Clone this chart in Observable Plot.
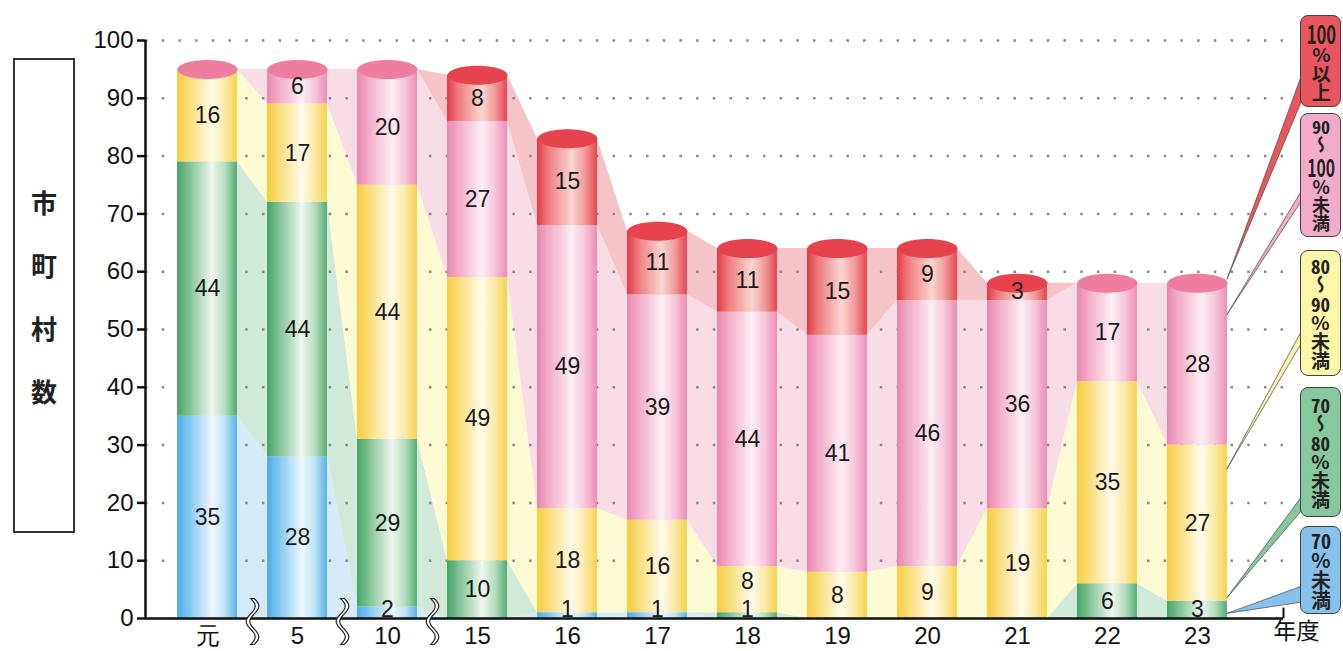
<!DOCTYPE html>
<html><head><meta charset="utf-8">
<script src="https://cdn.jsdelivr.net/npm/d3@7"></script>
<script src="https://cdn.jsdelivr.net/npm/@observablehq/plot@0.6"></script>
<style>
body{margin:0;background:#fff;font-family:"Liberation Sans",Arial,sans-serif}
#wrap{position:relative;width:1343px;height:651px;overflow:hidden}
#ylab{position:absolute;left:13px;top:58px;width:62px;height:475px;border:2px solid #333;box-sizing:border-box;display:flex;flex-direction:column;align-items:center;justify-content:center;font-family:"Noto Sans CJK JP",sans-serif;font-weight:bold;font-size:26px;color:#222}
#ylab div{height:63px;line-height:63px}
#overlay{position:absolute;left:0;top:0;pointer-events:none}
.lg{position:absolute;left:1300px;width:41px;box-sizing:border-box;border:1.8px solid #444;border-radius:8px;display:flex;align-items:center;justify-content:center;overflow:hidden}
.lg .t{writing-mode:vertical-rl;text-orientation:upright;font-family:"Noto Sans CJK JP",sans-serif;font-weight:bold;color:#222;line-height:1;white-space:nowrap}
.lg .tcy{text-combine-upright:all}
.lg .tcy3{text-combine-upright:all;font-size:1.4em}
</style></head>
<body><div id="wrap"><div id="ylab"><div>市</div><div>町</div><div>村</div><div>数</div></div></div>
<script>
const years = ["元","5","10","15","16","17","18","19","20","21","22","23"];
const seriesNames = ["70%未満","70～80%未満","80～90%未満","90～100%未満","100%以上"];
const under70     = [35,28, 2, 0, 1, 1, 0, 0, 0, 0, 0, 0];
const from70to80  = [44,44,29,10, 0, 0, 1, 0, 0, 0, 6, 3];
const from80to90  = [16,17,44,49,18,16, 8, 8, 9,19,35,27];
const from90to100 = [ 0, 6,20,27,49,39,44,41,46,36,17,28];
const over100     = [null,null,null,8,15,11,11,15,9,3,null,null];
const yTicks = [0,10,20,30,40,50,60,70,80,90,100];
const breaksAfter = [0,1,2];

const seriesValues = [under70, from70to80, from80to90, from90to100, over100];
const gradIds = ["gBlue","gGreen","gYellow","gPink","gRed"];
const gradStops = [
  ["#4cace6","#7cc4ef","#eef8fe","#bfe3f8","#58b2e8"],
  ["#45a466","#79bf8e","#eef7ef","#b5dcc0","#55ad74"],
  ["#f5cd3e","#f8dc74","#fffbea","#fbe9a6","#f6d24c"],
  ["#ea86ae","#f2a9c8","#fdeef4","#f6c6da","#ec8db4"],
  ["#e33a46","#ee7a7c","#fad6cf","#f19a98","#e6454f"]
];
const bandColors = ["#d6ebf8","#d0e9d9","#fdfbd3","#f8dde7","#f5c4c8"];
const capColors = ["#6dbdec","#6cbb88","#f6d658","#ee7d9f","#e6434e"];

const hw = 0.333;
const xDomain = [-0.689, 11.956];

const rows = [];
years.forEach((yr, i) => {
  let cum = 0, prev = null;
  seriesValues.forEach((vals, s) => {
    const v = vals[i] ?? 0;
    const r = {i, s, v, y1: cum, y2: cum + v, present: vals[i] !== null};
    const mid = (r.y1 + r.y2) / 2;
    if (r.y1 === 0) r.ly = Math.max(mid, 1.6);
    else if (prev && prev.v > 0 && prev.v <= 2) r.ly = Math.max(mid, r.y1 + 5.4);
    else r.ly = mid;
    rows.push(r);
    if (v > 0) prev = r;
    cum += v;
  });
});
const bandData = [];
rows.forEach(r => {
  bandData.push({...r, x: r.i - hw});
  bandData.push({...r, x: r.i + hw});
});
const caps = years.map((yr, i) => {
  const present = rows.filter(r => r.i === i && r.present);
  const top = present[present.length - 1];
  const total = d3.sum(rows.filter(r => r.i === i), r => r.v);
  return {i, total, s: top.s};
});

const ellipse = (rx, ry) => ({draw(ctx) {
  const k = 0.5523;
  ctx.moveTo(-rx, 0);
  ctx.bezierCurveTo(-rx, -ry*k, -rx*k, -ry, 0, -ry);
  ctx.bezierCurveTo(rx*k, -ry, rx, -ry*k, rx, 0);
  ctx.bezierCurveTo(rx, ry*k, rx*k, ry, 0, ry);
  ctx.bezierCurveTo(-rx*k, ry, -rx, ry*k, -rx, 0);
  ctx.closePath();
}});
const wave = {draw(ctx) {
  const pts = d3.range(0, 41).map(k => { const t = k/40; return [4.5*Math.sin(t*Math.PI*3), -20 + 46*t]; });
  ctx.moveTo(pts[0][0]-1.8, pts[0][1]);
  pts.forEach(([x,y]) => ctx.lineTo(x-1.8, y));
  pts.slice().reverse().forEach(([x,y]) => ctx.lineTo(x+1.8, y));
  ctx.closePath();
}};

const marks = [];
seriesValues.forEach((_, s) => {
  marks.push(Plot.areaY(bandData.filter(d => d.s === s), {x: "x", y1: "y1", y2: "y2", fill: bandColors[s], curve: "linear"}));
});
marks.push(Plot.gridY(yTicks.slice(1), {stroke: "#8a8a8a", strokeOpacity: 1, strokeWidth: 2.5, strokeDasharray: "2.5 14.2"}));
seriesValues.forEach((_, s) => {
  marks.push(Plot.rect(rows.filter(r => r.s === s && r.v > 0), {x1: d => d.i - hw, x2: d => d.i + hw, y1: "y1", y2: "y2", fill: `url(#${gradIds[s]})`}));
});
capColors.forEach((c, s) => {
  marks.push(Plot.dot(caps.filter(d => d.s === s), {x: "i", y: "total", symbol: ellipse(30, 9.5), fill: c, stroke: "none", r: 5}));
});
marks.push(Plot.text(rows.filter(r => r.v > 0), {
  x: "i", y: "ly", text: d => String(d.v),
  fontSize: 23, fill: "#1a1a1a", fontFamily: "Liberation Sans, Arial, sans-serif"
}));
marks.push(Plot.ruleY([0], {stroke: "#111", strokeWidth: 2.5}));
marks.push(Plot.ruleX([xDomain[0]], {y1: 0, y2: 100, stroke: "#111", strokeWidth: 2.5}));
marks.push(Plot.ruleX([xDomain[1]], {y1: 0, y2: 1.8, stroke: "#111", strokeWidth: 2}));
marks.push(Plot.dot(breaksAfter, {x: d => d + 0.5, y: 0, symbol: wave, fill: "#fff", stroke: "#222", strokeWidth: 1.2, r: 5}));
marks.push(Plot.axisY(yTicks, {tickSize: 8, tickPadding: 4, fontSize: 24, label: null, stroke: "#111", strokeWidth: 2.5}));
marks.push(Plot.axisX(d3.range(years.length), {tickFormat: i => years[i], tickSize: 0, tickPadding: 8, fontSize: 24, label: null}));
marks.push(Plot.text(["年度"], {frameAnchor: "bottom-right", dx: 36, dy: 20, textAnchor: "end", fontSize: 23, fill: "#111", fontFamily: "Noto Sans CJK JP, sans-serif"}));

const plot = Plot.plot({
  width: 1343, height: 651,
  marginLeft: 145, marginRight: 60, marginTop: 40, marginBottom: 33,
  x: {type: "linear", domain: xDomain, axis: null},
  y: {domain: [0, 100], axis: null},
  style: {fontFamily: "Liberation Sans, Arial, sans-serif", color: "#111", background: "transparent"},
  marks
});

const defs = d3.create("svg:defs");
gradStops.forEach((stops, s) => {
  const g = defs.append("linearGradient").attr("id", gradIds[s]).attr("x1", 0).attr("x2", 1).attr("y1", 0).attr("y2", 0);
  [0, 0.18, 0.58, 0.8, 1].forEach((o, k) => g.append("stop").attr("offset", o).attr("stop-color", stops[k]));
});
plot.insertBefore(defs.node(), plot.firstChild);
document.getElementById("wrap").appendChild(plot);

// legend + leaders
const xs = plot.scale("x"), ys = plot.scale("y");
const legendBoxes = [
  {html: '<span class="tcy3">100</span>%以上', y0: 15, y1: 107, fs: 19, fill: "#e9565d", leadFrom: 58.6, leadTo: [74, 100]},
  {html: '<span class="tcy">90</span>～<span class="tcy3">100</span>%未満', y0: 113, y1: 237, fs: 18, fill: "#f2abc9", leadFrom: 52.5, leadTo: [190, 200]},
  {html: '<span class="tcy">80</span>～<span class="tcy">90</span>%未満', y0: 250, y1: 376, fs: 19, fill: "#fbf8aa", leadFrom: 25.8, leadTo: [330, 342]},
  {html: '<span class="tcy">70</span>～<span class="tcy">80</span>%未満', y0: 387, y1: 517, fs: 19, fill: "#88c89e", leadFrom: 3.5, leadTo: [496, 510]},
  {html: '<span class="tcy">70</span>%未満', y0: 526, y1: 614, fs: 20, fill: "#88c2ec", leadFrom: 0.8, leadTo: [586, 602]}
].reverse();
const wrap = d3.select("#wrap");
const ov = wrap.append("svg").attr("id", "overlay").attr("width", 1343).attr("height", 651);
const bx = xs.apply(years.length - 1 + hw);
legendBoxes.forEach(b => {
  const y = ys.apply(b.leadFrom);
  ov.append("path").attr("d", `M${bx},${y}L1302,${b.leadTo[0]}L1302,${b.leadTo[1]}Z`)
    .attr("fill", b.fill).attr("stroke", "#555").attr("stroke-width", 0.8);
});
legendBoxes.forEach(b => {
  wrap.append("div").attr("class", "lg")
    .style("top", b.y0 + "px").style("height", (b.y1 - b.y0) + "px").style("background", b.fill)
    .append("div").attr("class", "t").style("font-size", b.fs + "px").html(b.html);
});
</script></body></html>
